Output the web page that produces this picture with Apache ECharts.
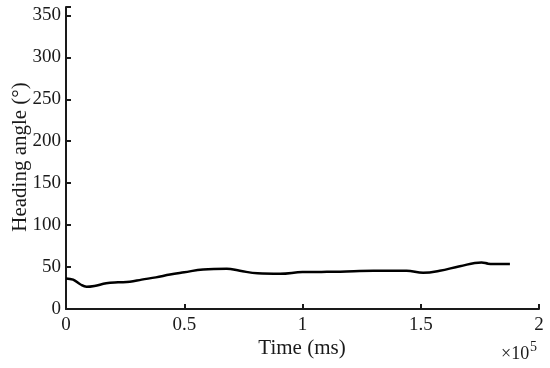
<!DOCTYPE html>
<html>
<head>
<meta charset="utf-8">
<script src="https://cdn.jsdelivr.net/npm/echarts@6/dist/echarts.min.js"></script>
<style>
  html, body { margin: 0; padding: 0; background: #fff; }
  #main { width: 550px; height: 368px; }
</style>
</head>
<body>
<div id="main"></div>
<script>
// time in units of 1e5 ms, heading in degrees
var timeVals = [0, 0.03, 0.06, 0.087, 0.12, 0.17, 0.22, 0.27, 0.32, 0.38, 0.44, 0.5, 0.58, 0.68, 0.735, 0.81, 0.905, 1.0, 1.08, 1.16, 1.3, 1.44, 1.51, 1.58, 1.665, 1.757, 1.785, 1.805, 1.877];
var headingVals = [36.5, 35, 29.5, 26.5, 27.5, 30.6, 31.8, 32.5, 35, 37.7, 41, 43.7, 47.2, 48, 45.6, 42.5, 42, 44, 44.2, 44.5, 45.6, 45.6, 43.3, 45.6, 51, 55.5, 54, 53.6, 53.6];
var xTicks = [0, 0.5, 1, 1.5, 2];
var yTicks = [0, 50, 100, 150, 200, 250, 300, 350];
var xName = 'Time (ms)';
var yName = 'Heading angle (°)';

var points = timeVals.map(function (t, i) { return [t, headingVals[i]]; });

var font = '"Liberation Serif", "Times New Roman", serif';
var myChart = echarts.init(document.getElementById('main'));
myChart.setOption({
    animation: false,
    backgroundColor: '#ffffff',
    grid: { left: 66, right: 11, top: 7, bottom: 59, containLabel: false, outerBoundsMode: 'none' },
    xAxis: {
        type: 'value',
        min: 0,
        max: 2,
        interval: 0.5,
        axisLine: { lineStyle: { color: '#1a1a1a', width: 2 } },
        axisTick: { inside: true, length: 5, lineStyle: { color: '#1a1a1a', width: 2 } },
        axisLabel: {
            fontFamily: font, fontSize: 19, color: '#1a1a1a', margin: 7,
            formatter: function (v) { return xTicks.indexOf(v) >= 0 ? String(v) : ''; }
        },
        splitLine: { show: false }
    },
    yAxis: {
        type: 'value',
        min: 0,
        max: 360,
        interval: 50,
        axisLine: { show: true, lineStyle: { color: '#1a1a1a', width: 2 } },
        axisTick: { show: true, inside: true, length: 5, lineStyle: { color: '#1a1a1a', width: 2 } },
        axisLabel: {
            fontFamily: font, fontSize: 19, color: '#1a1a1a', margin: 5,
            formatter: function (v) { return yTicks.indexOf(v) >= 0 ? String(v) : ''; }
        },
        splitLine: { show: false }
    },
    graphic: [{
        // axis titles
        type: 'text',
        x: 302,
        y: 348,
        style: { text: xName, font: '21px ' + font, fill: '#1a1a1a', align: 'center', verticalAlign: 'middle' }
    }, {
        type: 'text',
        x: 20,
        y: 157,
        rotation: Math.PI / 2,
        style: { text: yName, font: '21px ' + font, fill: '#1a1a1a', align: 'center', verticalAlign: 'middle' }
    }, {
        // exponent
        type: 'text',
        x: 501,
        y: 363,
        style: { text: '×10', font: '18px ' + font, fill: '#1a1a1a', verticalAlign: 'bottom' }
    }, {
        type: 'text',
        x: 530,
        y: 354,
        style: { text: '5', font: '14px ' + font, fill: '#1a1a1a', verticalAlign: 'bottom' }
    }],
    series: [{
        type: 'line',
        data: points,
        smooth: 0.4,
        showSymbol: false,
        lineStyle: { color: '#000000', width: 2.5 }
    }]
});
</script>
</body>
</html>
